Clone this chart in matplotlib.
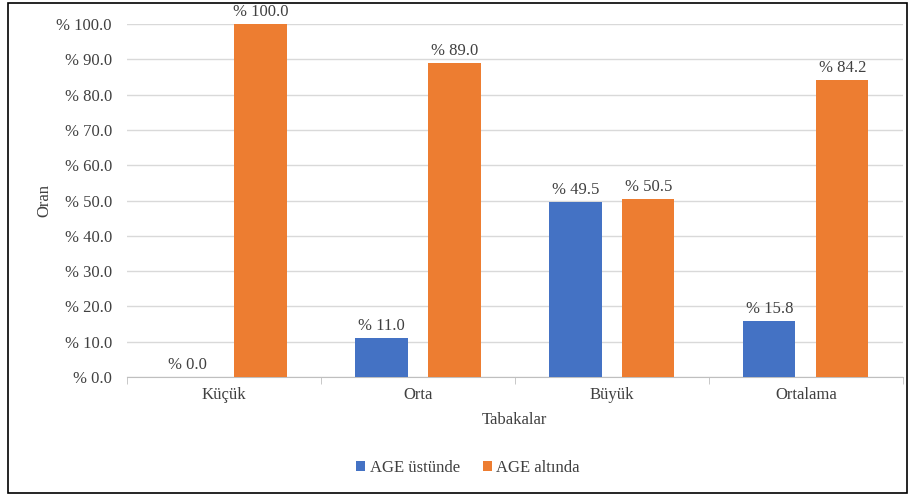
import numpy as np
import matplotlib.pyplot as plt
from matplotlib.patches import Rectangle
from matplotlib.ticker import FuncFormatter

plt.rcParams['font.family'] = ['Liberation Serif', 'DejaVu Serif']

categories = ['Küçük', 'Orta', 'Büyük', 'Ortalama']
ustunde = [0.0, 11.0, 49.5, 15.8]
altinda = [100.0, 89.0, 50.5, 84.2]
series_names = ['AGE üstünde', 'AGE altında']

blue = '#4472C4'
orange = '#ED7D31'
txt = '#404040'
fs = 12

fig = plt.figure(figsize=(9.1, 4.96), dpi=100)
ax = fig.add_axes([0.1396, 0.2399, 0.8524, 0.7117])

x = np.arange(len(categories))
w = 0.27
off = 0.188
b1 = ax.bar(x - off, ustunde, w, color=blue, label=series_names[0], zorder=3)
b2 = ax.bar(x + off, altinda, w, color=orange, label=series_names[1], zorder=3)

for bars, vals in ((b1, ustunde), (b2, altinda)):
    for b, v in zip(bars, vals):
        ax.annotate('%% %.1f' % v, (b.get_x() + b.get_width() / 2, v),
                    xytext=(0, 3), textcoords='offset points',
                    ha='center', va='bottom', fontsize=fs, color=txt)

ax.set_xlim(-0.5, len(categories) - 0.5)
ax.set_ylim(0, 100)
ax.set_yticks(np.arange(0, 101, 10))
ax.yaxis.set_major_formatter(FuncFormatter(lambda v, p: '%% %.1f' % v))
ax.grid(axis='y', color='#d9d9d9', linewidth=1, zorder=0)
ax.set_axisbelow(True)

ax.set_xticks(x)
ax.set_xticklabels(categories)
ax.set_xticks(np.arange(-0.5, len(categories)), minor=True)
ax.tick_params(axis='x', which='major', length=0, pad=7, labelsize=fs, labelcolor=txt)
ax.tick_params(axis='x', which='minor', length=5, color='#bfbfbf')
ax.tick_params(axis='y', length=0, pad=11, labelsize=fs, labelcolor=txt)

for s in ('top', 'right', 'left'):
    ax.spines[s].set_visible(False)
ax.spines['bottom'].set_color('#bfbfbf')

ax.set_xlabel('Tabakalar', fontsize=fs, color=txt, labelpad=7)
ax.set_ylabel('Oran', fontsize=fs, color=txt, labelpad=3)

fig.legend(loc='center', bbox_to_anchor=(468 / 910, 1 - 468 / 496), ncol=2,
           frameon=False, fontsize=fs, handlelength=0.55, handleheight=0.55,
           handletextpad=0.25, columnspacing=1.4, labelcolor=txt)

fig.patches.append(Rectangle((8 / 910, 3 / 496), 899 / 910, 490 / 496,
                             transform=fig.transFigure, fill=False,
                             edgecolor='black', linewidth=1.2))

fig.savefig('out.png', dpi=100)
